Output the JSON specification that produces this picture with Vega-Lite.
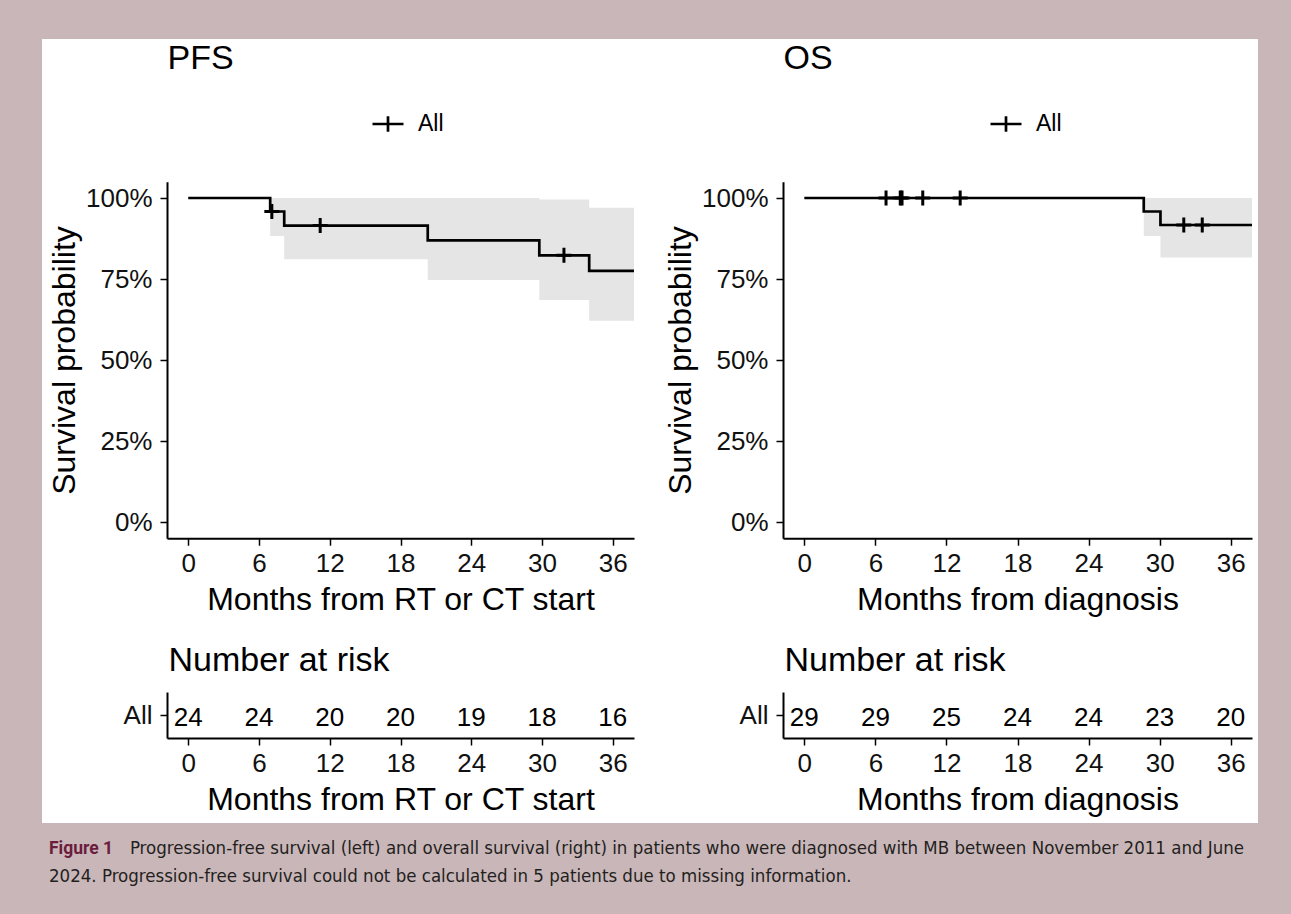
{
  "$schema": "https://vega.github.io/schema/vega-lite/v6.json",
  "background": "#C9B6B8",
  "padding": {"left": 42, "top": 39, "right": 33, "bottom": 30},
  "autosize": {"type": "pad"},
  "config": {
    "view": {"fill": "#FFFFFF", "stroke": null},
    "concat": {"spacing": 0},
    "axis": {"domainColor": "#000000", "domainWidth": 2, "tickColor": "#000000", "tickWidth": 1.5, "tickSize": 7, "labelFont": "Liberation Sans", "labelFontSize": 26, "labelColor": "#111111", "titleFont": "Liberation Sans", "titleFontSize": 32, "titleFontWeight": "normal", "titleColor": "#000000", "grid": false, "labelOverlap": false},
    "axisX": {"labelPadding": 5, "titlePadding": 8},
    "axisY": {"labelPadding": 8, "titlePadding": 4}
  },
  "datasets": {
    "pfs_curve": [
      {"time": 0, "surv": 1, "lower": 1, "upper": 1, "strata": "All"},
      {"time": 6.95, "surv": 0.9583, "lower": 0.883, "upper": 1, "strata": "All"},
      {"time": 8.14, "surv": 0.9148, "lower": 0.811, "upper": 1, "strata": "All"},
      {"time": 20.31, "surv": 0.869, "lower": 0.747, "upper": 1, "strata": "All"},
      {"time": 29.77, "surv": 0.823, "lower": 0.685, "upper": 0.995, "strata": "All"},
      {"time": 34.0, "surv": 0.775, "lower": 0.621, "upper": 0.97, "strata": "All"},
      {"time": 37.8, "surv": 0.775, "lower": 0.621, "upper": 0.97, "strata": "All"}
    ],
    "pfs_censor": [
      {"time": 7.09, "surv": 0.9583},
      {"time": 11.19, "surv": 0.9148},
      {"time": 31.86, "surv": 0.823}
    ],
    "pfs_risk": [
      {"time": 0, "n": 24, "strata": "All"},
      {"time": 6, "n": 24, "strata": "All"},
      {"time": 12, "n": 20, "strata": "All"},
      {"time": 18, "n": 20, "strata": "All"},
      {"time": 24, "n": 19, "strata": "All"},
      {"time": 30, "n": 18, "strata": "All"},
      {"time": 36, "n": 16, "strata": "All"}
    ],
    "os_curve": [
      {"time": 0, "surv": 1, "lower": 1, "upper": 1, "strata": "All"},
      {"time": 28.66, "surv": 0.9583, "lower": 0.883, "upper": 1, "strata": "All"},
      {"time": 30.07, "surv": 0.9167, "lower": 0.816, "upper": 1, "strata": "All"},
      {"time": 37.8, "surv": 0.9167, "lower": 0.816, "upper": 1, "strata": "All"}
    ],
    "os_censor": [
      {"time": 6.9, "surv": 1},
      {"time": 8.1, "surv": 1},
      {"time": 8.25, "surv": 1},
      {"time": 10.0, "surv": 1},
      {"time": 13.16, "surv": 1},
      {"time": 32.04, "surv": 0.9167},
      {"time": 33.6, "surv": 0.9167}
    ],
    "os_risk": [
      {"time": 0, "n": 29, "strata": "All"},
      {"time": 6, "n": 29, "strata": "All"},
      {"time": 12, "n": 25, "strata": "All"},
      {"time": 18, "n": 24, "strata": "All"},
      {"time": 24, "n": 24, "strata": "All"},
      {"time": 30, "n": 23, "strata": "All"},
      {"time": 36, "n": 20, "strata": "All"}
    ]
  },
  "title": {
    "text": "Figure 1",
    "subtitle": ["\u2800\u00a0\u00a0\u00a0\u00a0\u00a0\u00a0\u00a0\u00a0\u00a0\u00a0\u00a0\u00a0\u00a0Progression-free survival (left) and overall survival (right) in patients who were diagnosed with MB between November 2011 and June", "2024. Progression-free survival could not be calculated in 5 patients due to missing information."],
    "orient": "bottom",
    "anchor": "start",
    "frame": "bounds",
    "offset": 17,
    "dx": 7,
    "font": "Roboto, Liberation Sans, sans-serif",
    "fontSize": 17.5,
    "fontWeight": "bold",
    "color": "#6B1D3D",
    "subtitleFont": "DejaVu Sans Condensed, Liberation Sans Narrow, sans-serif",
    "subtitleFontSize": 18.5,
    "subtitleFontWeight": "normal",
    "subtitleColor": "#231F20",
    "subtitlePadding": -18.3,
    "subtitleLineHeight": 28
  },
  "resolve": {"scale": {"x": "independent", "y": "independent", "color": "independent"}, "legend": {"color": "independent"}},
  "hconcat": [
    {
      "resolve": {"scale": {"x": "independent", "y": "independent", "color": "independent"}, "legend": {"color": "independent"}},
      "vconcat": [
        {
          "width": 616,
          "height": 601,
          "resolve": {"axis": {"x": "independent"}},
          "layer": [
            {
              "data": {"name": "pfs_curve"},
              "mark": {"type": "area", "interpolate": "step-after", "color": "#E5E5E5"},
              "encoding": {
                "x": {"field": "time", "type": "quantitative", "scale": {"domain": [-1.8, 37.8], "range": [125, 592], "nice": false, "zero": false}, "axis": {"values": [0, 6, 12, 18, 24, 30, 36], "title": "Months from RT or CT start", "offset": -101.8}},
                "y": {"field": "lower", "type": "quantitative", "scale": {"domain": [-0.05, 1.05], "range": [499.2, 142.8], "nice": false, "zero": false}, "axis": {"values": [0, 0.25, 0.5, 0.75, 1], "format": ".0%", "title": "Survival probability", "offset": -125}},
                "y2": {"field": "upper"}
              }
            },
            {
              "data": {"name": "pfs_curve"},
              "mark": {"type": "line", "interpolate": "step-after", "strokeWidth": 2.7},
              "encoding": {
                "x": {"field": "time", "type": "quantitative", "axis": null},
                "y": {"field": "surv", "type": "quantitative", "axis": {"values": [0, 0.25, 0.5, 0.75, 1], "format": ".0%", "title": "Survival probability", "offset": -125}},
                "color": {"field": "strata", "type": "nominal", "scale": {"range": ["#000000"]}, "legend": {"title": null, "orient": "none", "legendX": 329, "legendY": 68, "padding": 0, "symbolType": "M-1,0L1,0M0,-0.5L0,0.5", "symbolSize": 961, "symbolStrokeWidth": 2.7, "symbolStrokeColor": "#000000", "symbolFillColor": "transparent", "labelFont": "Liberation Sans", "labelFontSize": 23, "labelColor": "#000000", "labelOffset": 13}}
              }
            },
            {
              "data": {"name": "pfs_censor"},
              "mark": {"type": "point", "shape": "M-1,0L1,0M0,-1L0,1", "size": 225, "filled": false, "stroke": "#000000", "strokeWidth": 3, "opacity": 1},
              "encoding": {
                "x": {"field": "time", "type": "quantitative", "axis": {"orient": "top", "title": "PFS", "titleAnchor": "start", "titleAlign": "left", "domain": false, "ticks": false, "labels": false, "offset": -29, "titlePadding": 0, "titleFontSize": 34, "titleBaseline": "alphabetic"}},
                "y": {"field": "surv", "type": "quantitative", "axis": {"values": [0, 0.25, 0.5, 0.75, 1], "format": ".0%", "title": "Survival probability", "offset": -125}}
              }
            }
          ]
        },
        {
          "width": 616,
          "height": 183,
          "data": {"name": "pfs_risk"},
          "mark": {"type": "text", "font": "Liberation Sans", "fontSize": 26, "color": "#000000", "baseline": "middle", "dy": 3},
          "encoding": {
            "x": {"field": "time", "type": "quantitative", "scale": {"domain": [-1.8, 37.8], "range": [125, 592], "nice": false, "zero": false}, "axis": {"values": [0, 6, 12, 18, 24, 30, 36], "title": "Months from RT or CT start", "offset": -85}},
            "y": {"field": "strata", "type": "nominal", "scale": {"type": "point", "range": [52, 98], "paddingOuter": 0.5}, "axis": {"title": "Number at risk", "offset": -125, "titleAngle": 0, "titleAlign": "left", "titleBaseline": "alphabetic", "titleX": 1, "titleY": 30, "titleFontSize": 34}},
            "text": {"field": "n", "type": "quantitative"}
          }
        }
      ]
    },
    {
      "resolve": {"scale": {"x": "independent", "y": "independent", "color": "independent"}, "legend": {"color": "independent"}},
      "vconcat": [
        {
          "width": 600,
          "height": 601,
          "resolve": {"axis": {"x": "independent"}},
          "layer": [
            {
              "data": {"name": "os_curve"},
              "mark": {"type": "area", "interpolate": "step-after", "color": "#E5E5E5"},
              "encoding": {
                "x": {"field": "time", "type": "quantitative", "scale": {"domain": [-1.8, 37.8], "range": [125, 594], "nice": false, "zero": false}, "axis": {"values": [0, 6, 12, 18, 24, 30, 36], "title": "Months from diagnosis", "offset": -101.8}},
                "y": {"field": "lower", "type": "quantitative", "scale": {"domain": [-0.05, 1.05], "range": [499.2, 142.8], "nice": false, "zero": false}, "axis": {"values": [0, 0.25, 0.5, 0.75, 1], "format": ".0%", "title": "Survival probability", "offset": -125}},
                "y2": {"field": "upper"}
              }
            },
            {
              "data": {"name": "os_curve"},
              "mark": {"type": "line", "interpolate": "step-after", "strokeWidth": 2.7},
              "encoding": {
                "x": {"field": "time", "type": "quantitative", "axis": null},
                "y": {"field": "surv", "type": "quantitative", "axis": {"values": [0, 0.25, 0.5, 0.75, 1], "format": ".0%", "title": "Survival probability", "offset": -125}},
                "color": {"field": "strata", "type": "nominal", "scale": {"range": ["#000000"]}, "legend": {"title": null, "orient": "none", "legendX": 331, "legendY": 68, "padding": 0, "symbolType": "M-1,0L1,0M0,-0.5L0,0.5", "symbolSize": 961, "symbolStrokeWidth": 2.7, "symbolStrokeColor": "#000000", "symbolFillColor": "transparent", "labelFont": "Liberation Sans", "labelFontSize": 23, "labelColor": "#000000", "labelOffset": 13}}
              }
            },
            {
              "data": {"name": "os_censor"},
              "mark": {"type": "point", "shape": "M-1,0L1,0M0,-1L0,1", "size": 225, "filled": false, "stroke": "#000000", "strokeWidth": 3, "opacity": 1},
              "encoding": {
                "x": {"field": "time", "type": "quantitative", "axis": {"orient": "top", "title": "OS", "titleAnchor": "start", "titleAlign": "left", "domain": false, "ticks": false, "labels": false, "offset": -29, "titlePadding": 0, "titleFontSize": 34, "titleBaseline": "alphabetic"}},
                "y": {"field": "surv", "type": "quantitative", "axis": {"values": [0, 0.25, 0.5, 0.75, 1], "format": ".0%", "title": "Survival probability", "offset": -125}}
              }
            }
          ]
        },
        {
          "width": 600,
          "height": 183,
          "data": {"name": "os_risk"},
          "mark": {"type": "text", "font": "Liberation Sans", "fontSize": 26, "color": "#000000", "baseline": "middle", "dy": 3},
          "encoding": {
            "x": {"field": "time", "type": "quantitative", "scale": {"domain": [-1.8, 37.8], "range": [125, 594], "nice": false, "zero": false}, "axis": {"values": [0, 6, 12, 18, 24, 30, 36], "title": "Months from diagnosis", "offset": -85}},
            "y": {"field": "strata", "type": "nominal", "scale": {"type": "point", "range": [52, 98], "paddingOuter": 0.5}, "axis": {"title": "Number at risk", "offset": -125, "titleAngle": 0, "titleAlign": "left", "titleBaseline": "alphabetic", "titleX": 1, "titleY": 30, "titleFontSize": 34}},
            "text": {"field": "n", "type": "quantitative"}
          }
        }
      ]
    }
  ]
}
